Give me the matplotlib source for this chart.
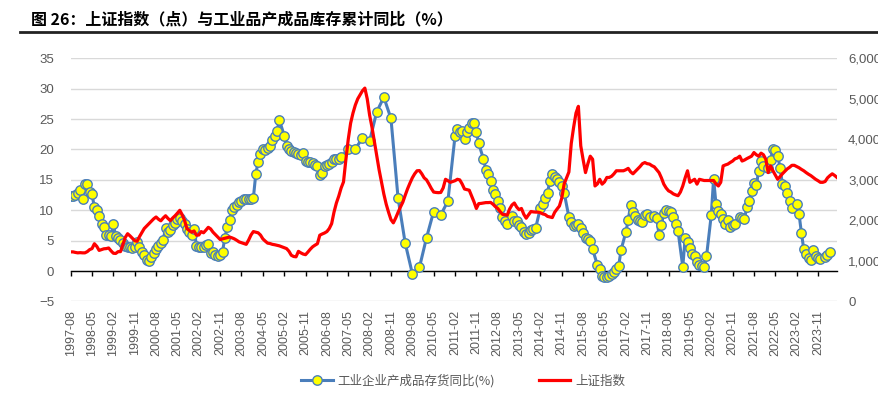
import numpy as np
import pandas as pd
import matplotlib
matplotlib.use("Agg")
import matplotlib.pyplot as plt
from matplotlib.lines import Line2D

plt.rcParams['font.family'] = ['Liberation Sans', 'Noto Sans CJK SC', 'DejaVu Sans']

# monthly axis 1997-08 .. 2024-07
months = pd.period_range('1997-08', '2024-07', freq='M')

# 工业企业产成品存货同比 (%), None = no value that month
inventory_yoy = [
    12.3, 12.3, 12.5, 12.8, 13.3,                                   # 1997 Aug-Dec
    11.9, 14.3, 14.3, 13.0, 12.6, 10.5, 10.1, 9.1, 7.7, 7.2, 6.0, 5.9,   # 1998
    5.8, 7.7, 5.7, 5.4, 5.1, 4.6, 4.1, 3.9, 3.9, 3.8, 3.9, 4.8,          # 1999
    4.0, 3.2, 2.7, 1.9, 1.7, 2.3, 3.0, 3.6, 4.1, 4.6, 5.1, 7.1,          # 2000
    6.4, 6.8, 7.6, 7.9, 8.6, 8.7, 8.3, 7.8, 7.0, 6.5, 5.9, 7.0,          # 2001
    4.2, 3.9, 3.9, 4.0, 4.3, 4.5, 2.9, 3.1, 2.6, 2.4, 2.6, 3.2,          # 2002
    5.5, 7.2, 8.4, 10.1, 10.5, 10.8, 11.3, 11.6, 11.8, 11.8, 11.9, 11.9, # 2003
    12.0, 15.9, 18.0, 19.2, 20.0, 19.9, 20.3, 20.6, 21.5, 22.3, 23.1, 24.8,  # 2004
    None, 22.3, 20.6, 20.0, 19.7, 19.6, 19.5, 19.3, 19.1, 19.5, 18.1, 18.0,  # 2005
    17.9, 17.7, 17.4, 17.3, 15.8, 16.2, 17.3, 17.4, 17.6, 18.0, 18.4, 18.5,  # 2006
    18.5, 18.7, None, None, 20.1, None, None, 20.1, None, None, 21.9, None,  # 2007
    None, 21.4, None, None, 26.2, None, None, 28.6, None, None, 25.1, None,  # 2008
    None, 12.0, None, None, 4.6, None, None, -0.4, None, None, 0.6, None,    # 2009
    None, 5.5, None, None, 9.8, None, None, 9.25, None, None, 11.5, None,    # 2010
    None, 22.2, 23.3, 22.9, 23.0, 21.8, 22.9, 23.6, 24.3, 24.3, 22.9, 21.0,  # 2011
    None, 18.4, 16.7, 15.9, 14.9, 13.4, 12.7, 11.6, 10.3, 8.9, 8.2, 7.8,     # 2012
    None, 9.1, 8.3, 8.2, 7.6, 7.3, 6.4, 6.1, 6.3, 6.7, 6.9, 7.1,             # 2013
    None, 10.4, 11.1, 12.0, 12.9, 14.9, 15.9, 15.5, 15.2, 14.7, 14.0, 12.9,  # 2014
    None, 8.9, 8.1, 7.4, 7.6, 7.8, 7.1, 6.2, 5.4, 5.2, 5.0, 3.6,             # 2015
    None, 1.0, 0.4, -0.75, -0.9, -0.9, -0.75, -0.4, -0.1, 0.4, 0.9, 3.5,     # 2016
    None, 6.4, 8.4, 10.8, 9.7, 9.1, 8.4, 8.2, 8.1, 9.3, 9.4, 8.9,            # 2017
    None, 9.0, 8.8, 5.9, 7.5, 9.6, 10.1, 9.9, 9.7, 8.9, 7.8, 6.6,            # 2018
    None, 0.7, 5.4, 4.8, 3.8, 2.75, 2.4, 1.5, 1.05, 0.8, 0.6, 2.4,           # 2019
    None, 9.2, 15.2, 11.0, 9.9, 9.4, 8.6, 7.8, 8.4, 7.2, 7.5, 7.8,           # 2020
    None, 8.9, 8.8, 8.6, 10.5, 11.5, 13.2, 14.5, 14.1, 16.5, 18.1, 17.3,     # 2021
    None, 17.0, 18.3, 20.1, 19.9, 19.0, 17.0, 14.3, 14.0, 12.8, 11.6, 10.3,  # 2022
    None, 11.1, 9.4, 6.3, 3.6, 2.75, 2.1, 1.8, 3.5, 2.5, 2.1, 2.0,           # 2023
    None, 2.3, 2.6, 3.2, None, None, None,                                # 2024 Jan-Jul
]

# 上证指数 (点)
sse_index = [
    1224, 1224, 1210, 1200, 1205,                                         # 1997 Aug-Dec
    1200, 1200, 1230, 1280, 1305, 1425, 1360, 1260, 1280, 1300, 1305, 1320,  # 1998
    1250, 1190, 1185, 1230, 1230, 1400, 1580, 1672, 1620, 1560, 1500, 1485,  # 1999
    1600, 1700, 1800, 1860, 1920, 1980, 2040, 2085, 2030, 1990, 2060, 2115,  # 2000
    2050, 1995, 2060, 2115, 2180, 2250, 2140, 2000, 1800, 1750, 1710, 1740,  # 2001
    1635, 1640, 1725, 1695, 1760, 1830, 1790, 1710, 1650, 1590, 1530, 1545,  # 2002
    1560, 1575, 1590, 1570, 1545, 1510, 1470, 1450, 1430, 1410, 1515, 1640,  # 2003
    1725, 1710, 1695, 1640, 1545, 1490, 1440, 1430, 1410, 1400, 1385, 1372,  # 2004
    1350, 1330, 1305, 1240, 1140, 1110, 1102, 1237, 1200, 1170, 1155, 1220,  # 2005
    1290, 1350, 1390, 1425, 1635, 1665, 1690, 1725, 1800, 1920, 2205, 2430,  # 2006
    2600, 2800, 2950, 3500, 4000, 4400, 4650, 4850, 5000, 5100, 5200, 5265,  # 2007
    5000, 4600, 4300, 3950, 3600, 3250, 2950, 2650, 2400, 2200, 2020, 1940,  # 2008
    2060, 2200, 2330, 2450, 2620, 2780, 2920, 3050, 3150, 3225, 3230, 3150,  # 2009
    3050, 3000, 2900, 2790, 2700, 2690, 2685, 2690, 2800, 3015, 2980, 2940,  # 2010
    2960, 2980, 3015, 3000, 2900, 2775, 2760, 2745, 2600, 2460, 2295, 2415,  # 2011
    2420, 2430, 2440, 2440, 2445, 2400, 2340, 2295, 2220, 2150, 2140, 2130,  # 2012
    2280, 2380, 2430, 2330, 2265, 2295, 2150, 2055, 2140, 2220, 2210, 2205,  # 2013
    2205, 2190, 2160, 2145, 2100, 2085, 2070, 2200, 2280, 2355, 2550, 2900,  # 2014
    3050, 3195, 3900, 4300, 4650, 4815, 3840, 3500, 3180, 3400, 3585, 3510,  # 2015
    2850, 2900, 3015, 2895, 2950, 3060, 3060, 3090, 3150, 3225, 3225, 3225,  # 2016
    3225, 3250, 3285, 3200, 3150, 3210, 3270, 3330, 3400, 3428, 3400, 3390,  # 2017
    3350, 3322, 3250, 3180, 3050, 2895, 2800, 2730, 2700, 2655, 2630, 2610,  # 2018
    2700, 2850, 3050, 3225, 2940, 2980, 3015, 2895, 3015, 3000, 2985, 2985,  # 2019
    2985, 2985, 2985, 2900, 2850, 2940, 3345, 3370, 3390, 3430, 3465, 3520,  # 2020
    3540, 3585, 3465, 3490, 3525, 3555, 3585, 3675, 3620, 3585, 3660, 3620,  # 2021
    3510, 3180, 3345, 3225, 3120, 3015, 3080, 3150, 3210, 3270, 3310, 3360,  # 2022
    3360, 3330, 3300, 3260, 3225, 3180, 3140, 3105, 3060, 3015, 2980, 2940,  # 2023
    2940, 2960, 3050, 3105, 3150, 3110, 3060,                              # 2024 Jan-Jul
]

inv_label = '工业企业产成品存货同比(%)'
sse_label = '上证指数'
title = '图 26：上证指数（点）与工业品产成品库存累计同比（%）'

x = np.arange(len(months))
inv = np.array([np.nan if v is None else v for v in inventory_yoy], dtype=float)
sse = np.array(sse_index, dtype=float)
ok = ~np.isnan(inv)

fig = plt.figure(figsize=(8.79, 3.98), dpi=100)
ax = fig.add_axes([0.0804, 0.2425, 0.8718, 0.611])
ax2 = ax.twinx()

grey = '#595959'
blue = '#4A7EBB'

ax.plot(x[ok], inv[ok], color=blue, lw=2.2, marker='o', ms=6.8,
        mfc='#FFFF00', mec=blue, mew=1.0, zorder=3)
ax2.plot(x, sse, color='#FF0000', lw=2.3, zorder=3)

ax.set_xlim(0, len(months) - 1)
ax.set_ylim(-5, 35)
ax.set_yticks(np.arange(-5, 36, 5))
ax2.set_ylim(0, 6000)
ax2.set_yticks(np.arange(0, 6001, 1000))
ax2.set_yticklabels([f'{v:,}' for v in range(0, 6001, 1000)])

tick_pos = x[::9]
ax.set_xticks(tick_pos)
ax.set_xticklabels([months[i].strftime('%Y-%m') for i in tick_pos])

for a in (ax, ax2):
    for s in a.spines.values():
        s.set_visible(False)
ax.spines['bottom'].set_visible(True)
ax.spines['bottom'].set_position(('data', 0))
ax.spines['bottom'].set_color('black')
ax.spines['bottom'].set_linewidth(1.0)

ax.tick_params(axis='x', direction='out', length=3.6, width=1, color='black',
               pad=24.5, labelsize=9, labelcolor=grey, labelrotation=90)
ax.tick_params(axis='y', length=0, pad=12, labelsize=9.5, labelcolor=grey)
ax2.tick_params(axis='y', length=0, pad=8, labelsize=9.5, labelcolor=grey)

ax.yaxis.grid(True, color='#D9D9D9', lw=1.0)
ax.set_axisbelow(True)

handles = [
    Line2D([], [], color=blue, lw=2.2, marker='o', ms=6.8, mfc='#FFFF00', mec=blue, mew=1.0),
    Line2D([], [], color='#FF0000', lw=2.3),
]
fig.legend(handles, [inv_label, sse_label], loc='center', bbox_to_anchor=(0.527, 0.043),
           ncol=2, frameon=False, handlelength=2.5, columnspacing=3.5, handletextpad=0.4,
           prop={'family': ['Noto Sans CJK SC'], 'size': 9}, labelcolor=grey)

fig.text(0.035, 0.952, title, fontsize=11.5, fontweight='bold', va='center', ha='left',
         family=['Noto Sans CJK SC', 'DejaVu Sans'])
fig.add_artist(Line2D([0.023, 1.0], [0.919, 0.919], transform=fig.transFigure,
                      color='#222222', lw=2.0))

fig.savefig('out.png', dpi=100)
